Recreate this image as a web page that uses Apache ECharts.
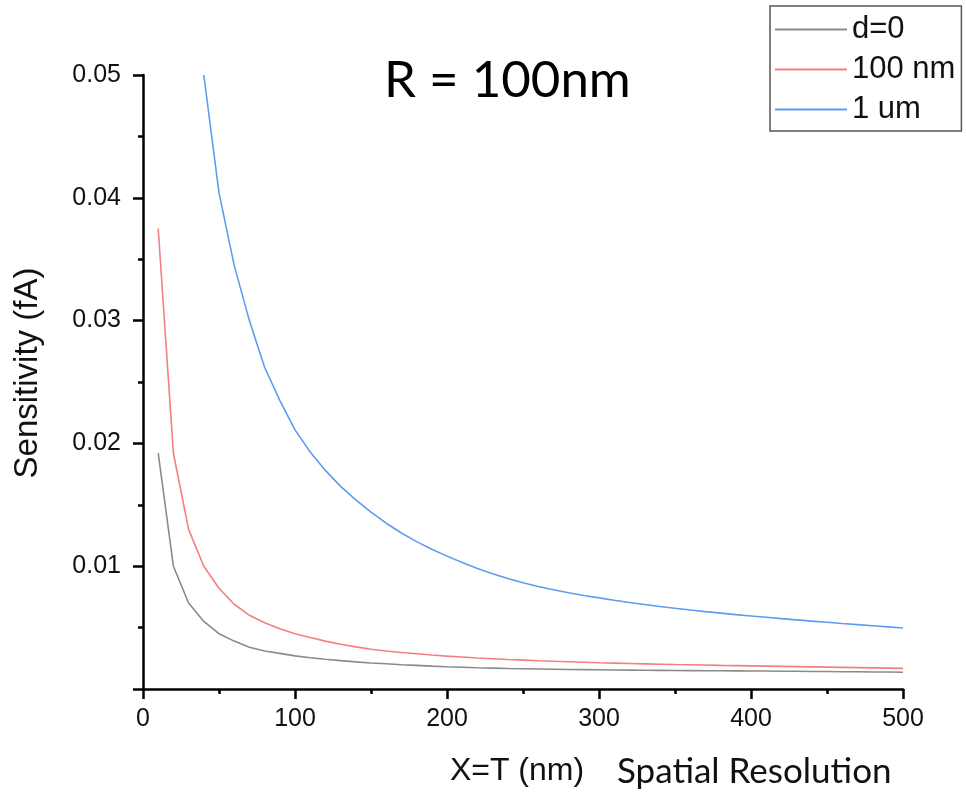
<!DOCTYPE html>
<html>
<head>
<meta charset="utf-8">
<script src="https://cdn.jsdelivr.net/npm/echarts@6/dist/echarts.min.js"></script>
<style>html,body{margin:0;padding:0;background:#fff}#c{width:966px;height:793px}</style>
</head>
<body>
<div id="c"></div>
<script>
var xValues = [10,20,30,40,50,60,70,80,90,100,110,120,130,140,150,160,170,180,190,200,210,220,230,240,250,260,270,280,290,300,310,320,330,340,350,360,370,380,390,400,410,420,430,440,450,460,470,480,490,500];
var gray = [0.0192,0.0100,0.0070,0.0055,0.0045,0.0039,0.0034,0.0031,0.0029,0.0027,0.00255,0.00242,0.00231,0.00221,0.00212,0.00205,0.00198,0.00192,0.00186,0.00181,0.00177,0.00173,0.00170,0.00167,0.00165,0.00163,0.00161,0.00159,0.00158,0.00157,0.00155,0.00154,0.00153,0.00152,0.00151,0.00150,0.00149,0.00149,0.00148,0.00147,0.00146,0.00145,0.00144,0.00143,0.00142,0.00141,0.00140,0.00139,0.00138,0.00137];
var red = [0.0375,0.0192,0.0130,0.0100,0.0082,0.0069,0.0060,0.0054,0.0049,0.0045,0.0042,0.0039,0.00365,0.00343,0.00324,0.00309,0.00297,0.00287,0.00277,0.00268,0.00260,0.00252,0.00246,0.00240,0.00235,0.00230,0.00226,0.00222,0.00218,0.00214,0.00211,0.00208,0.00205,0.00202,0.00199,0.00197,0.00195,0.00192,0.00190,0.00188,0.00186,0.00184,0.00182,0.00180,0.00178,0.00176,0.00174,0.00172,0.00170,0.00168];
var blueX = [40,50,60,70,80,90,100,110,120,130,140,150,160,170,180,190,200,210,220,230,240,250,260,270,280,290,300,310,320,330,340,350,360,370,380,390,400,410,420,430,440,450,460,470,480,490,500];
var blue = [0.0500,0.0404,0.0345,0.0300,0.0262,0.0235,0.0211,0.0193,0.0178,0.0165,0.0154,0.0144,0.0135,0.0127,0.0120,0.01138,0.01082,0.01030,0.00982,0.00939,0.00900,0.00866,0.00835,0.00808,0.00784,0.00762,0.00742,0.00723,0.00705,0.00688,0.00672,0.00657,0.00643,0.00630,0.00618,0.00606,0.00595,0.00584,0.00573,0.00563,0.00553,0.00543,0.00533,0.00524,0.00515,0.00506,0.00497];
var seriesNames = ['d=0','100 nm','1 um'];
var colors = ['#8a8a8a','#f47f7f','#5f9cf0'];

function pairs(xs, ys){ return xs.map(function(x,i){ return [x, ys[i]]; }); }

var chart = echarts.init(document.getElementById('c'));
var axisFont = {fontFamily:'Liberation Sans, Arial, sans-serif', fontSize:25, color:'#111'};
chart.setOption({
  animation:false,
  backgroundColor:'#fff',
  grid:{left:143, right:63, top:75, bottom:104, containLabel:false},
  title:{text:'R = 100nm', left:379, top:50, textStyle:{fontFamily:'Lato, sans-serif', fontSize:51, fontWeight:'normal', color:'#000'}},
  legend:{
    orient:'vertical', left:770, top:6, itemWidth:72, itemHeight:2, itemGap:9,
    padding:[8,6,6,5], borderColor:'#555', borderWidth:1.5,
    icon:'rect',
    textStyle:{fontFamily:'Liberation Sans, Arial, sans-serif', fontSize:31, color:'#111', lineHeight:30},
    data:seriesNames
  },
  xAxis:{
    type:'value', min:0, max:500, interval:100,
    name:'X=T (nm)', nameLocation:'middle', nameGap:66,
    nameTextStyle:{fontFamily:'Liberation Sans, Arial, sans-serif', fontSize:32, color:'#111', padding:[0,12,0,0]},
    axisLine:{lineStyle:{color:'#000', width:2.5}},
    axisTick:{show:true, inside:false, length:10, lineStyle:{color:'#000', width:2.5}},
    minorTick:{show:true, splitNumber:2, length:5, lineStyle:{color:'#000', width:2.5}},
    splitLine:{show:false},
    axisLabel:Object.assign({margin:18}, axisFont)
  },
  yAxis:{
    type:'value', min:0, max:0.05, interval:0.01,
    name:'Sensitivity (fA)', nameLocation:'middle', nameGap:99,
    nameTextStyle:{fontFamily:'Liberation Sans, Arial, sans-serif', fontSize:33, color:'#111', padding:[0,0,0,18]},
    axisLine:{show:true, lineStyle:{color:'#000', width:2.5}},
    axisTick:{show:true, inside:false, length:10, lineStyle:{color:'#000', width:2.5}},
    minorTick:{show:true, splitNumber:2, length:5, lineStyle:{color:'#000', width:2.5}},
    splitLine:{show:false},
    axisLabel:Object.assign({margin:22, formatter:function(v){ return v===0 ? '' : v.toFixed(2); }}, axisFont)
  },
  graphic:[{
    type:'text', left:617, top:754,
    style:{text:'Spatial Resolution', fontFamily:'Lato, sans-serif', fontSize:35, fill:'#111'}
  }],
  series:[
    {name:seriesNames[0], type:'line', data:pairs(xValues, gray), showSymbol:false, lineStyle:{width:1.6, color:colors[0]}, itemStyle:{color:colors[0]}},
    {name:seriesNames[1], type:'line', data:pairs(xValues, red), showSymbol:false, lineStyle:{width:1.6, color:colors[1]}, itemStyle:{color:colors[1]}},
    {name:seriesNames[2], type:'line', data:pairs(blueX, blue), showSymbol:false, lineStyle:{width:1.6, color:colors[2]}, itemStyle:{color:colors[2]}}
  ]
});
</script>
</body>
</html>
